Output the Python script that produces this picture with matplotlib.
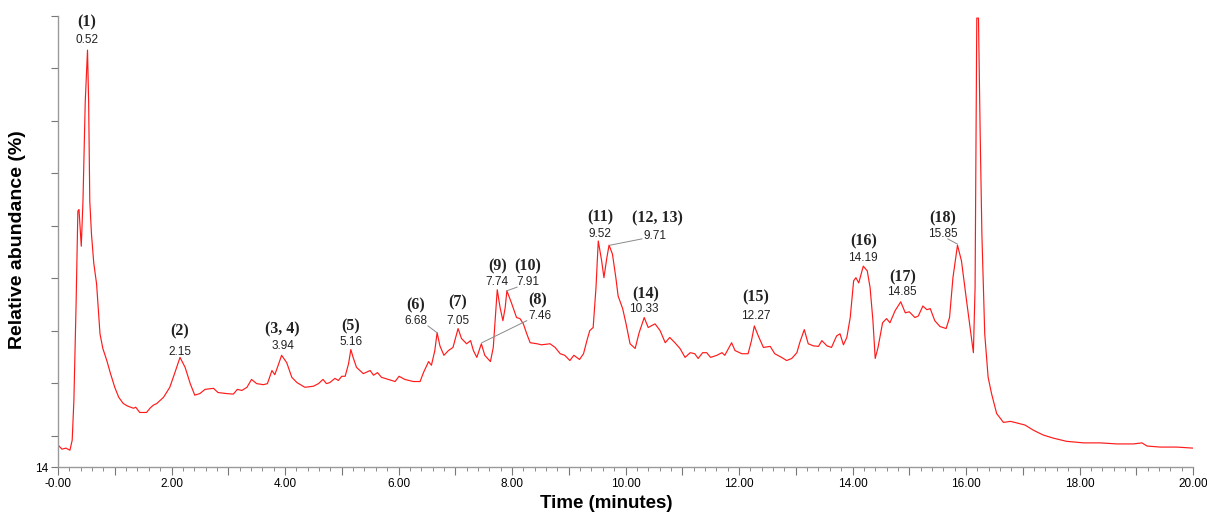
import matplotlib.pyplot as plt
from matplotlib.ticker import MultipleLocator

# Chromatogram trace (minutes, relative abundance)
time = [0.00, 0.07, 0.14, 0.21, 0.25, 0.28, 0.32, 0.35, 0.37, 0.41, 0.44, 0.48, 0.52,
        0.54, 0.56, 0.59, 0.63, 0.68, 0.74, 0.79, 0.86, 0.92, 1.00, 1.07, 1.15, 1.23,
        1.33, 1.37, 1.44, 1.56, 1.62, 1.68, 1.74, 1.86, 1.97, 2.06, 2.15, 2.24, 2.33,
        2.41, 2.50, 2.59, 2.74, 2.82, 2.97, 3.09, 3.16, 3.24, 3.33, 3.41, 3.50, 3.62,
        3.69, 3.77, 3.82, 3.88, 3.94, 4.03, 4.12, 4.21, 4.35, 4.50, 4.59, 4.67, 4.73,
        4.79, 4.88, 4.94, 5.00, 5.06, 5.12, 5.16, 5.20, 5.26, 5.38, 5.50, 5.56, 5.63,
        5.70, 5.82, 5.94, 6.01, 6.11, 6.26, 6.38, 6.44, 6.53, 6.58, 6.64, 6.68, 6.73,
        6.80, 6.88, 6.96, 7.05, 7.11, 7.20, 7.27, 7.32, 7.38, 7.46, 7.52, 7.62, 7.67,
        7.74, 7.79, 7.84, 7.88, 7.91, 7.99, 8.08, 8.14, 8.20, 8.26, 8.32, 8.44, 8.52,
        8.67, 8.76, 8.85, 8.93, 9.02, 9.09, 9.19, 9.26, 9.32, 9.37, 9.43, 9.48, 9.52,
        9.58, 9.62, 9.67, 9.71, 9.77, 9.83, 9.87, 9.95, 10.01, 10.08, 10.17, 10.24,
        10.33, 10.40, 10.52, 10.61, 10.70, 10.78, 10.87, 10.96, 11.05, 11.14, 11.22,
        11.28, 11.36, 11.43, 11.50, 11.61, 11.70, 11.75, 11.87, 11.93, 12.05, 12.16,
        12.22, 12.27, 12.34, 12.43, 12.55, 12.63, 12.75, 12.84, 12.93, 13.02, 13.07,
        13.15, 13.22, 13.31, 13.40, 13.46, 13.55, 13.63, 13.72, 13.78, 13.84, 13.90,
        13.96, 14.02, 14.06, 14.11, 14.19, 14.26, 14.31, 14.36, 14.40, 14.45, 14.53,
        14.60, 14.66, 14.75, 14.85, 14.93, 15.00, 15.10, 15.16, 15.24, 15.31, 15.37,
        15.45, 15.54, 15.65, 15.71, 15.77, 15.85, 15.92, 16.01, 16.08, 16.13, 16.16,
        16.18, 16.19, 16.22, 16.25, 16.28, 16.33, 16.39, 16.45, 16.54, 16.66, 16.78,
        16.86, 17.04, 17.19, 17.36, 17.54, 17.77, 18.07, 18.36, 18.66, 18.95, 19.10,
        19.19, 19.42, 19.71, 20.00]
abundance = [18.2, 17.4, 17.6, 17.2, 19.1, 26.7, 45.7, 62.8, 63.1, 56.1, 64.7, 83.6, 93.5,
             83.6, 64.7, 58.4, 52.9, 48.9, 39.4, 36.6, 34.3, 32.0, 29.2, 27.3, 26.1, 25.6,
             25.2, 25.4, 24.4, 24.4, 25.2, 25.8, 26.1, 27.3, 29.2, 32.0, 34.9, 33.0, 29.9,
             27.7, 28.0, 28.8, 29.0, 28.2, 28.0, 27.9, 28.8, 28.6, 29.2, 30.7, 29.9, 29.7,
             29.9, 32.4, 31.6, 33.4, 35.3, 33.9, 31.1, 30.1, 29.2, 29.4, 29.9, 30.7, 29.9,
             30.1, 30.9, 30.5, 31.3, 31.3, 33.7, 36.4, 34.9, 33.0, 31.8, 32.4, 31.5, 32.0,
             31.1, 30.7, 30.3, 31.3, 30.7, 30.3, 30.3, 32.0, 34.1, 33.4, 36.2, 39.6, 37.1,
             35.3, 36.2, 36.8, 40.4, 38.5, 37.5, 38.1, 36.2, 34.9, 37.5, 35.3, 34.1, 36.8,
             47.8, 44.4, 41.9, 44.4, 47.6, 45.3, 42.5, 42.3, 41.3, 39.4, 37.7, 37.5, 37.3,
             37.5, 36.8, 35.6, 35.3, 34.3, 35.3, 34.5, 35.6, 38.1, 40.0, 40.6, 48.2, 57.1,
             53.3, 50.1, 53.8, 56.3, 54.6, 50.1, 46.6, 44.2, 41.3, 37.5, 36.6, 39.6,
             42.5, 40.6, 41.3, 40.0, 37.7, 38.7, 37.7, 36.6, 34.9, 35.8, 35.6,
             34.7, 35.8, 35.8, 34.9, 35.3, 35.8, 35.3, 37.7, 36.2, 35.6, 35.6,
             38.1, 40.9, 39.0, 36.8, 37.0, 35.6, 34.9, 34.3, 34.7, 35.8, 37.7,
             40.2, 37.5, 37.1, 37.0, 38.1, 37.1, 36.8, 39.0, 39.4, 37.3, 38.7,
             42.5, 49.5, 50.1, 49.1, 52.3, 51.4, 48.2, 41.9, 34.7, 36.8, 41.5,
             42.3, 41.5, 43.8, 45.5, 43.4, 43.6, 42.5, 42.8, 44.7, 44.0, 44.2,
             41.9, 40.8, 40.4, 42.5, 50.1, 56.3, 53.3, 45.7, 40.0, 35.8, 48.2,
             83.6, 99.6, 99.6, 77.4, 58.4, 39.4, 31.1, 28.0, 24.2, 22.5, 22.7,
             22.5, 22.0, 21.0, 20.1, 19.5, 18.9, 18.6, 18.6, 18.4, 18.4, 18.6,
             18.0, 17.8, 17.8, 17.6]

# peak labels: compound number, retention time
peak_names = ["(1)", "(2)", "(3, 4)", "(5)", "(6)", "(7)", "(8)", "(9)", "(10)",
              "(11)", "(12, 13)", "(14)", "(15)", "(16)", "(17)", "(18)"]
peak_times = ["0.52", "2.15", "3.94", "5.16", "6.68", "7.05", "7.46", "7.74", "7.91",
              "9.52", "9.71", "10.33", "12.27", "14.19", "14.85", "15.85"]

# label placement (x, y of retention time text; x, y of compound number)
rt_pos = [(0.51, 95.4), (2.15, 36.0), (3.96, 37.0), (5.16, 37.9), (6.31, 41.9),
          (7.05, 41.9), (8.49, 42.8), (7.74, 49.2), (8.28, 49.2), (9.55, 58.5),
          (10.52, 58.0), (10.33, 44.2), (12.30, 42.8), (14.19, 53.9), (14.87, 47.3),
          (15.59, 58.5)]
name_pos = [(0.51, 98.8), (2.15, 39.8), (3.96, 40.2), (5.16, 40.9), (6.31, 44.9),
            (7.05, 45.3), (8.46, 45.7), (7.74, 52.3), (8.28, 52.3), (9.55, 61.6),
            (10.57, 61.4), (10.36, 47.0), (12.30, 46.3), (14.19, 57.1), (14.89, 50.2),
            (15.59, 61.4)]
# leader lines from label to peak
leaders = [((6.52, 40.9), (6.68, 39.6)), ((8.26, 41.9), (7.47, 37.7)),
           ((8.09, 48.3), (7.91, 47.6)), ((10.29, 57.5), (9.73, 56.3)),
           ((15.68, 57.5), (15.85, 56.5))]

fig = plt.figure(figsize=(12.07, 5.13), dpi=100)
ax = fig.add_axes([58 / 1207, 46 / 513, 1135 / 1207, 451 / 513])

ax.plot(time, abundance, color="#ff1a1a", lw=0.85)

for (x0, y0), (x1, y1) in leaders:
    ax.plot([x0, x1], [y0, y1], color="#8a8a8a", lw=0.7)

for name, rt, (tx, ty), (nx, ny) in zip(peak_names, peak_times, rt_pos, name_pos):
    ax.text(tx, ty, rt, ha="center", va="center", fontsize=8.5,
            family="Liberation Sans", color="#222222")
    ax.text(nx, ny, name, ha="center", va="center", fontsize=11.5,
            family="Liberation Serif", fontweight="bold", color="#222222")

ax.set_xlim(0, 20)
ax.set_ylim(14, 100)

for s in ["top", "right"]:
    ax.spines[s].set_visible(False)
for s in ["left", "bottom"]:
    ax.spines[s].set_color("#9a9a9a")
    ax.spines[s].set_linewidth(1.0)

ax.set_xticks(range(0, 21))
ax.set_xticklabels(["-0.00" if i == 0 else (f"{i:.2f}" if i % 2 == 0 else "")
                    for i in range(0, 21)])
ax.xaxis.set_minor_locator(MultipleLocator(0.2))
ax.tick_params(axis="x", which="major", length=6, width=0.8, color="#777777",
               labelsize=8.5, pad=2)
ax.tick_params(axis="x", which="minor", length=3, width=0.6, color="#777777")

ax.set_yticks([14, 20, 30, 40, 50, 60, 70, 80, 90, 100])
ax.set_yticklabels(["14"] + [""] * 9)
ax.tick_params(axis="y", length=5, width=0.8, color="#777777", labelsize=8.5, pad=2)

for lab in ax.get_xticklabels() + ax.get_yticklabels():
    lab.set_family("Liberation Sans")

fig.text(606 / 1207, 1 - 503 / 513, "Time (minutes)", ha="center", va="center",
         fontsize=13.5, fontweight="bold", family="Liberation Sans")
fig.text(18 / 1207, 1 - 240 / 513, "Relative abundance (%)", ha="center", va="center",
         rotation=90, fontsize=14, fontweight="bold", family="Liberation Sans")

fig.savefig("out.png", dpi=100)
